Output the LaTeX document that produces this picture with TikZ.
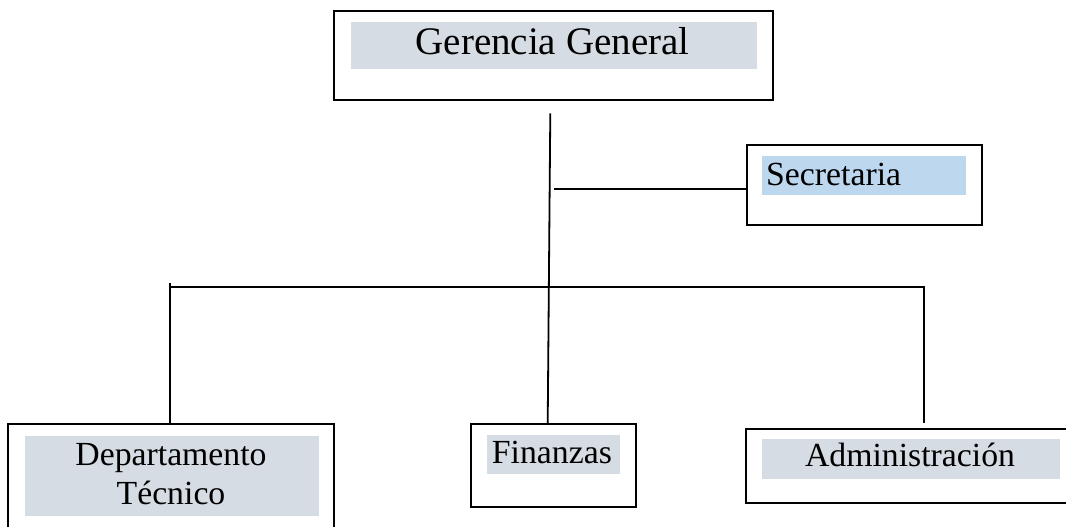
\documentclass[tikz,border=0pt]{standalone}
\usepackage{fontspec}
\setmainfont{Liberation Serif}
\definecolor{grayblue}{HTML}{D6DCE4}
\definecolor{lightblue}{HTML}{BDD7EE}
\begin{document}
\begin{tikzpicture}[x=1pt,y=-1pt,
  box/.style={draw=black, line width=1.9pt, rectangle, inner sep=0pt, fill=white},
  shadebox/.style={fill=#1, draw=none, rectangle, inner sep=0pt},
  lbl/.style={inner sep=0pt, text=black, font=\fontsize{33.75}{39}\selectfont},
  biglbl/.style={inner sep=0pt, text=black, font=\fontsize{39}{45}\selectfont},
  conn/.style={draw=black, line width=1.8pt}]
\useasboundingbox (0,0) rectangle (1066,527);
\clip (0,0) rectangle (1066,527);
\fill[white] (0,0) rectangle (1066,527);

% boxes
\node[box, minimum width=438.7pt, minimum height=89pt] (ger) at (553.35,55.5) {};
\node[box, minimum width=235.6pt, minimum height=80pt] (sec) at (864.5,185) {};
\node[box, minimum width=326pt, minimum height=116pt] (dep) at (171,482) {};
\node[box, minimum width=165.3pt, minimum height=82.7pt] (fin) at (553.35,465.35) {};
\node[box, minimum width=334.3pt, minimum height=74pt] (adm) at (912.85,465.7) {};

% shaded text backgrounds
\node[shadebox=grayblue, minimum width=405.7pt, minimum height=46.7pt] (gersh) at (553.85,45.35) {};
\node[shadebox=lightblue, minimum width=204.3pt, minimum height=39.3pt] (secsh) at (863.85,175.65) {};
\node[shadebox=grayblue, minimum width=294pt, minimum height=80pt] (depsh) at (172,476) {};
\node[shadebox=grayblue, minimum width=133.3pt, minimum height=39pt] (finsh) at (553.35,454.5) {};
\node[shadebox=grayblue, minimum width=298.3pt, minimum height=39.7pt] (admsh) at (910.85,458.85) {};

% texts
\node[biglbl, anchor=base] (gert) at (552.5,55) {Gerencia General};
\node[lbl, anchor=base west] (sect) at (766,185) {Secretaria};
\node[lbl, anchor=base] (dept) at (171,465) {\parbox[t]{300pt}{\centering Departamento\\T\'ecnico}};
\node[lbl, anchor=base west] (fint) at (491.7,463.3) {Finanzas};
\node[lbl, anchor=base] (admt) at (910,466.7) {Administraci\'on};

% connectors
\coordinate (gtail) at (550.3,113.3);
\coordinate (finin) at (547.7,424);
\draw[conn] (gtail) -- (finin);

\coordinate (stail) at (554,189);
\draw[conn] (stail) -- (stail -| sec.west);

\coordinate (busL) at (170,283);
\draw[conn] (busL) -- (busL |- dep.north);
\coordinate (bl) at (170,287.3);
\coordinate (br) at (923.7,287.3);
\coordinate (busR) at (923.7,423);
\draw[conn] (bl) -- (br) -- (busR);
\end{tikzpicture}
\end{document}
